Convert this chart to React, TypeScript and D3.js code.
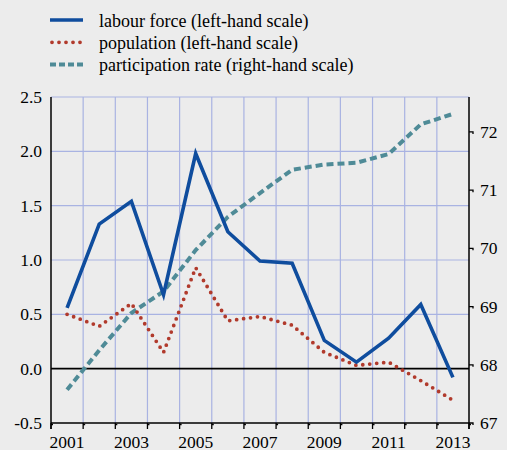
import * as d3 from 'd3';
import React, { useRef, useEffect } from 'react';

const years = ['2001','2002','2003','2004','2005','2006','2007','2008','2009','2010','2011','2012','2013'];
const labourForce = [0.56, 1.33, 1.54, 0.68, 1.98, 1.26, 0.99, 0.97, 0.26, 0.06, 0.28, 0.59, -0.08];
const population = [0.50, 0.39, 0.60, 0.15, 0.93, 0.44, 0.48, 0.40, 0.15, 0.03, 0.06, -0.11, -0.29];
const participation = [67.57, 68.25, 68.89, 69.26, 69.97, 70.54, 70.95, 71.35, 71.44, 71.47, 71.62, 72.13, 72.31];
const leftTicks = [-0.5, 0, 0.5, 1.0, 1.5, 2.0, 2.5];
const rightTicks = [67, 68, 69, 70, 71, 72];
const legendLabels = ['labour force (left-hand scale)', 'population (left-hand scale)', 'participation rate (right-hand scale)'];

const W = 507, H = 450;
const margin = { top: 97, right: 38, bottom: 27, left: 51 };
const font = 'Liberation Serif, DejaVu Serif, serif';
const axisSize = 17.5;
const legendSize = 18;
const colBlue = '#0f4d9e';
const colRed = '#b13a2c';
const colTeal = '#4f8b97';
const colGrid = '#a9b3e2';

function App() {
    const ref = useRef<SVGSVGElement>(null);

    useEffect(() => {
        const svg = d3.select(ref.current);
        svg.selectAll('*').remove();
        const x0 = margin.left, x1 = W - margin.right;
        const y0 = H - margin.bottom, y1 = margin.top;

        const x = d3.scaleBand().domain(years).range([x0, x1]).padding(0);
        const yL = d3.scaleLinear().domain([-0.5, 2.5]).range([y0, y1]);
        const yR = d3.scaleLinear().domain([67, 72.6]).range([y0, y1]);
        const cx = (d: string) => (x(d) as number) + x.bandwidth() / 2;

        svg.append('rect').attr('width', W).attr('height', H).attr('fill', '#ececec');

        // grid
        const g = svg.append('g');
        g.selectAll('line.h').data(leftTicks.filter(t => t > 0)).enter().append('line')
            .attr('x1', x0).attr('x2', x1)
            .attr('y1', d => yL(d)).attr('y2', d => yL(d))
            .attr('stroke', colGrid).attr('stroke-width', 1.2);
        g.selectAll('line.v').data(years.slice(1)).enter().append('line')
            .attr('x1', d => x(d) as number).attr('x2', d => x(d) as number)
            .attr('y1', y1).attr('y2', y0)
            .attr('stroke', colGrid).attr('stroke-width', 1.2);

        // zero line
        svg.append('line').attr('x1', x0).attr('x2', x1)
            .attr('y1', yL(0)).attr('y2', yL(0)).attr('stroke', '#000').attr('stroke-width', 1.6);

        // axes lines
        svg.append('line').attr('x1', x0).attr('x2', x0).attr('y1', y1).attr('y2', y0 + 6)
            .attr('stroke', '#000').attr('stroke-width', 1.5);
        svg.append('line').attr('x1', x1).attr('x2', x1).attr('y1', y1).attr('y2', y0 + 6)
            .attr('stroke', '#000').attr('stroke-width', 1.5);
        svg.append('line').attr('x1', x0).attr('x2', x1).attr('y1', y0).attr('y2', y0)
            .attr('stroke', '#000').attr('stroke-width', 1.5);

        // bottom ticks at band edges
        const edges = years.map(d => x(d) as number).concat([x1]);
        svg.selectAll('path.xt').data(edges).enter().append('path')
            .attr('d', d => `M${d},${y0} V${y0 + 6} M${d},${y0 + 1.5} H${d + 2}`)
            .attr('stroke', '#000').attr('stroke-width', 1.3).attr('fill', 'none');
        svg.selectAll('text.xl').data(years.filter((_, i) => i % 2 === 0)).enter().append('text')
            .attr('x', d => cx(d)).attr('y', y0 + 24.5)
            .attr('text-anchor', 'middle').style('font-family', font).attr('font-size', axisSize)
            .text(d => d);

        // left labels
        svg.selectAll('text.yl').data(leftTicks).enter().append('text')
            .attr('x', x0 - 9).attr('y', d => yL(d) + 6)
            .attr('text-anchor', 'end').style('font-family', font).attr('font-size', axisSize)
            .text(d => d3.format('.1f')(d).replace('\u2212', '-'));

        // right ticks and labels
        svg.selectAll('path.yt').data(rightTicks).enter().append('path')
            .attr('d', d => `M${x1},${yR(d)} H${x1 + 4} V${yR(d) + 2}`)
            .attr('stroke', '#000').attr('stroke-width', 1.3).attr('fill', 'none');
        svg.selectAll('text.yr').data(rightTicks).enter().append('text')
            .attr('x', x1 + 11).attr('y', d => yR(d) + 6)
            .style('font-family', font).attr('font-size', axisSize)
            .text(d => d);

        // series
        const lineL = d3.line<number>().x((_, i) => cx(years[i])).y(d => yL(d));
        const lineR = d3.line<number>().x((_, i) => cx(years[i])).y(d => yR(d));

        svg.append('path').attr('d', lineR(participation)).attr('fill', 'none')
            .attr('stroke', colTeal).attr('stroke-width', 4).attr('stroke-dasharray', '7,4');
        svg.append('path').attr('d', lineL(population)).attr('fill', 'none')
            .attr('stroke', colRed).attr('stroke-width', 3.8).attr('stroke-linecap', 'round')
            .attr('stroke-dasharray', '0,7');
        svg.append('path').attr('d', lineL(labourForce)).attr('fill', 'none')
            .attr('stroke', colBlue).attr('stroke-width', 3.6).attr('stroke-linejoin', 'miter');

        // legend
        const styles = [
            { c: colBlue, w: 3.6, dash: null, cap: 'butt' },
            { c: colRed, w: 3.8, dash: '0,7', cap: 'round' },
            { c: colTeal, w: 4, dash: '6,3', cap: 'butt' },
        ];
        const lg = svg.append('g');
        legendLabels.forEach((lab, i) => {
            const yy = 20 + i * 22.3;
            const s = styles[i];
            const ln = lg.append('line').attr('x1', i === 1 ? 52 : 50).attr('x2', 83).attr('y1', yy).attr('y2', yy)
                .attr('stroke', s.c).attr('stroke-width', s.w).attr('stroke-linecap', s.cap);
            if (s.dash) ln.attr('stroke-dasharray', s.dash);
            lg.append('text').attr('x', 99).attr('y', yy + 6.5)
                .style('font-family', font).attr('font-size', legendSize).text(lab);
        });
    }, []);

    return (
        <svg ref={ref} width={W} height={H} style={{ position: 'absolute', left: 0, top: 0 }}>
        </svg>
    );
}

export default App;
